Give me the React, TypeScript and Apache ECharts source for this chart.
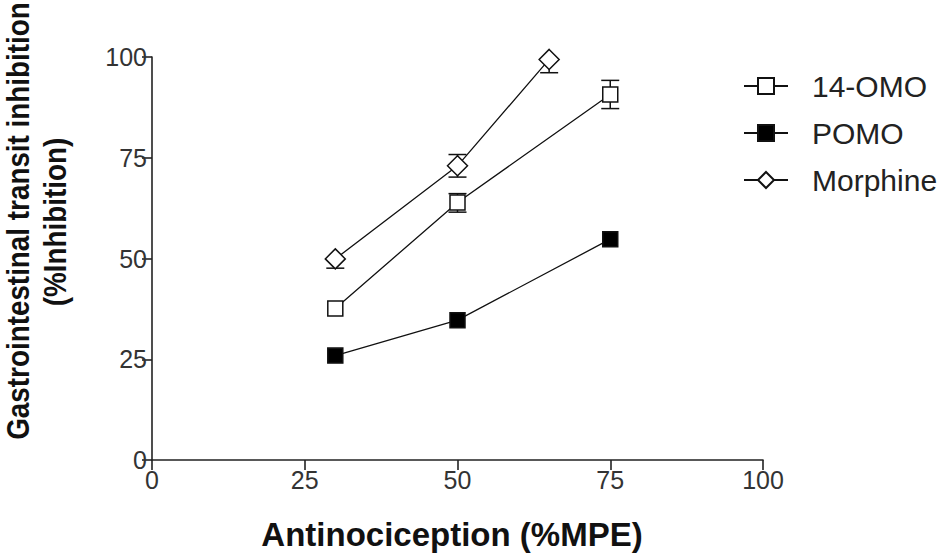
import React, { useEffect, useRef } from "react";
import * as echarts from "echarts";

const xValues = [30, 50, 75];
const xValuesMorphine = [30, 50, 65];
const omo14 = [37.6, 63.9, 90.7];
const pomo = [25.9, 34.7, 54.8];
const morphine = [49.9, 73.0, 99.4];
const omo14ErrUp = [0, 2.2, 3.5];
const omo14ErrDown = [0, 2.4, 3.5];
const pomoErrUp = [0, 0, 0];
const pomoErrDown = [0, 0, 0];
const morphineErrUp = [0, 2.8, 0];
const morphineErrDown = [2.3, 2.8, 3.3];
const xTicks = [0, 25, 50, 75, 100];
const yTicks = [0, 25, 50, 75, 100];

const FONT = "'Liberation Sans', Arial, sans-serif";

function errSeries(name: string, xs: number[], ys: number[], up: number[], dn: number[]) {
  return {
    type: "custom",
    name: name + "-err",
    z: 1,
    silent: true,
    data: xs.map((x, i) => [x, ys[i], up[i], dn[i]]),
    renderItem: (_p: any, api: any) => {
      const x = api.value(0);
      const y = api.value(1);
      const u = api.value(2);
      const d = api.value(3);
      const c = api.coord([x, y]);
      const cap = 9;
      const st = { stroke: "#111", lineWidth: 1.5 };
      const children: any[] = [];
      if (u > 0) {
        const p = api.coord([x, y + u]);
        children.push({ type: "line", shape: { x1: c[0], y1: c[1], x2: p[0], y2: p[1] }, style: st });
        children.push({ type: "line", shape: { x1: p[0] - cap, y1: p[1], x2: p[0] + cap, y2: p[1] }, style: st });
      }
      if (d > 0) {
        const p = api.coord([x, y - d]);
        children.push({ type: "line", shape: { x1: c[0], y1: c[1], x2: p[0], y2: p[1] }, style: st });
        children.push({ type: "line", shape: { x1: p[0] - cap, y1: p[1], x2: p[0] + cap, y2: p[1] }, style: st });
      }
      return { type: "group", children };
    },
  };
}

function lineSeries(name: string, xs: number[], ys: number[], symbol: string, size: number, fill: string) {
  return {
    type: "line",
    name,
    z: 3,
    data: xs.map((x, i) => [x, ys[i]]),
    symbol,
    symbolSize: size,
    showAllSymbol: true,
    lineStyle: { color: "#111", width: 1.3 },
    itemStyle: { color: fill, borderColor: "#111", borderWidth: 1.5 },
    emphasis: { disabled: true },
  };
}

export default function App() {
  const ref = useRef<HTMLDivElement>(null);
  useEffect(() => {
    if (!ref.current) return;
    const chart = echarts.init(ref.current, undefined, { renderer: "svg" });
    chart.setOption({
      animation: false,
      backgroundColor: "#fff",
      grid: { left: 152, right: 188, top: 57, bottom: 95 },
      xAxis: {
        type: "value",
        min: 0,
        max: 100,
        interval: 25,
        splitLine: { show: false },
        axisLine: { show: true, lineStyle: { color: "#222", width: 1.6 } },
        axisTick: { show: true, length: 10, lineStyle: { color: "#222", width: 1.6 } },
        axisLabel: {
          margin: 7,
          color: "#333",
          fontSize: 25,
          fontFamily: FONT,
          customValues: xTicks,
        },
      },
      yAxis: {
        type: "value",
        min: 0,
        max: 100,
        interval: 25,
        splitLine: { show: false },
        axisLine: { show: true, lineStyle: { color: "#222", width: 1.6 } },
        axisTick: { show: true, length: 10, lineStyle: { color: "#222", width: 1.6 } },
        axisLabel: {
          margin: 5,
          color: "#333",
          fontSize: 25,
          fontFamily: FONT,
          customValues: yTicks,
        },
      },
      legend: {
        orient: "vertical",
        left: 738,
        top: 66,
        itemWidth: 44,
        itemHeight: 20,
        itemGap: 17,
        data: ["14-OMO", "POMO", "Morphine"],
        textStyle: { fontSize: 30, color: "#222", fontFamily: FONT, padding: [0, 0, 0, 19] },
        selectedMode: false,
      },
      graphic: [
        {
          type: "text",
          x: 452,
          y: 534,
          style: {
            text: "Antinociception (%MPE)",
            font: "bold 33px " + FONT,
            fill: "#111",
            textAlign: "center",
            textVerticalAlign: "middle",
          },
        },
        {
          type: "text",
          x: 18,
          y: 221,
          rotation: Math.PI / 2,
          scaleX: 0.87,
          style: {
            text: "Gastrointestinal transit inhibition",
            font: "bold 32px " + FONT,
            fill: "#111",
            textAlign: "center",
            textVerticalAlign: "middle",
          },
        },
        {
          type: "text",
          x: 55,
          y: 222,
          rotation: Math.PI / 2,
          scaleX: 0.87,
          style: {
            text: "(%Inhibition)",
            font: "bold 32px " + FONT,
            fill: "#111",
            textAlign: "center",
            textVerticalAlign: "middle",
          },
        },
      ],
      series: [
        errSeries("14-OMO", xValues, omo14, omo14ErrUp, omo14ErrDown),
        errSeries("POMO", xValues, pomo, pomoErrUp, pomoErrDown),
        errSeries("Morphine", xValuesMorphine, morphine, morphineErrUp, morphineErrDown),
        lineSeries("14-OMO", xValues, omo14, "rect", 15, "#fff"),
        lineSeries("POMO", xValues, pomo, "rect", 15, "#000"),
        lineSeries("Morphine", xValuesMorphine, morphine, "diamond", 20, "#fff"),
      ],
    });
    return () => chart.dispose();
  }, []);
  return (
    <div
      ref={ref}
      style={{ position: "fixed", left: 0, top: 0, width: 951, height: 555, background: "#fff" }}
    />
  );
}
